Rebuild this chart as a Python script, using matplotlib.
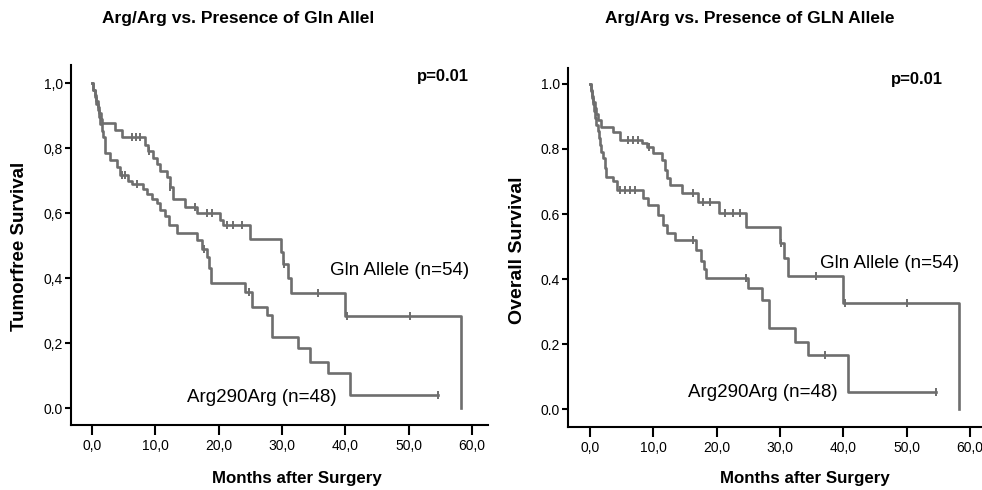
import numpy as np
import matplotlib
matplotlib.use('Agg')
import matplotlib.pyplot as plt

plt.rcParams['font.family'] = ['Liberation Sans', 'DejaVu Sans']

# ticks
x_ticks = [0, 10, 20, 30, 40, 50, 60]
x_labels = ['0,0', '10,0', '20,0', '30,0', '40,0', '50,0', '60,0']
y_ticks = [0.0, 0.2, 0.4, 0.6, 0.8, 1.0]
y_labels_left = ['0.0', '0,2', '0,4', '0,6', '0,8', '1,0']
y_labels_right = ['0.0', '0.2', '0.4', '0.6', '0.8', '1.0']

# tumorfree survival - Gln allele (n=54)
gln_tf_t = [0.2, 0.4, 0.6, 0.9, 1.1, 1.4, 1.6, 3.6, 4.7, 8.4, 8.9, 9.7, 10.2, 10.7,
            11.8, 12.3, 12.8, 14.7, 16.5, 20.2, 20.7, 24.9, 29.9, 30.1, 31.0, 31.4,
            40.0, 58.3]
gln_tf_s = [0.98, 0.963, 0.944, 0.926, 0.907, 0.889, 0.876, 0.855, 0.835, 0.81, 0.79,
            0.77, 0.75, 0.73, 0.71, 0.68, 0.645, 0.62, 0.60, 0.58, 0.563, 0.522, 0.48,
            0.445, 0.40, 0.353, 0.283, 0.0]
gln_tf_c = [6.3, 7.0, 7.6, 9.0, 12.3, 16.3, 18.1, 18.9, 21.3, 22.3, 23.6, 30.3, 35.7,
            40.2, 50.2]

# tumorfree survival - Arg290Arg (n=48)
arg_tf_t = [0.2, 0.4, 0.6, 0.9, 1.1, 1.3, 1.6, 1.8, 2.0, 2.8, 3.9, 4.4, 5.7, 6.3,
            8.1, 8.6, 9.4, 10.2, 10.7, 11.5, 12.1, 13.4, 16.5, 17.3, 18.1, 18.4,
            18.7, 24.2, 25.2, 27.6, 28.4, 32.5, 34.4, 37.3, 40.7]
arg_tf_s = [0.979, 0.958, 0.937, 0.917, 0.896, 0.875, 0.854, 0.833, 0.784, 0.763,
            0.743, 0.717, 0.70, 0.69, 0.675, 0.66, 0.645, 0.63, 0.61, 0.59, 0.565,
            0.54, 0.517, 0.49, 0.466, 0.43, 0.384, 0.358, 0.31, 0.286, 0.219, 0.184,
            0.143, 0.107, 0.04]
arg_tf_c = [4.7, 5.2, 7.1, 17.6, 24.7, 54.6]

# overall survival - Gln allele (n=54)
gln_os_t = [0.1, 0.3, 0.5, 0.8, 1.0, 1.3, 1.7, 3.7, 4.7, 8.2, 9.0, 10.0, 11.3, 11.8,
            12.1, 12.6, 14.5, 17.1, 20.3, 24.7, 30.0, 30.6, 31.3, 40.0, 58.3]
gln_os_s = [0.981, 0.963, 0.944, 0.926, 0.907, 0.889, 0.869, 0.853, 0.828, 0.818,
            0.807, 0.787, 0.766, 0.735, 0.71, 0.689, 0.664, 0.638, 0.602, 0.561,
            0.51, 0.464, 0.409, 0.325, 0.0]
gln_os_c = [6.05, 6.84, 7.6, 9.3, 16.3, 17.9, 18.9, 21.3, 22.6, 23.7, 30.2, 35.7,
            40.2, 50.0]

# overall survival - Arg290Arg (n=48)
arg_os_t = [0.1, 0.3, 0.4, 0.6, 0.8, 1.0, 1.2, 1.4, 1.6, 1.8, 2.0, 2.4, 2.6, 3.7,
            4.2, 8.4, 9.2, 10.8, 11.6, 12.1, 13.4, 16.8, 17.6, 18.0, 18.3, 24.9,
            27.1, 28.2, 32.4, 34.5, 40.8]
arg_os_s = [0.979, 0.958, 0.938, 0.917, 0.896, 0.875, 0.854, 0.833, 0.813, 0.792,
            0.771, 0.74, 0.715, 0.70, 0.675, 0.649, 0.628, 0.597, 0.566, 0.541, 0.52,
            0.49, 0.455, 0.43, 0.402, 0.372, 0.335, 0.248, 0.207, 0.166, 0.053]
arg_os_c = [4.7, 5.5, 6.3, 7.1, 16.3, 24.7, 37.1, 54.7]

line_col = '#6e6e6e'


def km_plot(ax, t, s, cens):
    t = np.asarray(t)
    s = np.asarray(s)
    end = max(t.max(), max(cens))
    xs = np.concatenate([[0], t, [end]])
    ys = np.concatenate([[1.0], s, [s[-1]]])
    ax.step(xs, ys, where='post', color=line_col, lw=1.9)
    idx = np.searchsorted(t, cens, side='right')
    cy = np.concatenate([[1.0], s])[idx]
    ax.plot(cens, cy, ls='none', marker='|', ms=6, mew=1.4, color=line_col)


def style(ax, xlim, ylim, ylabels):
    ax.set_xlim(xlim)
    ax.set_ylim(ylim)
    ax.spines[['top', 'right']].set_visible(False)
    for sp in ['left', 'bottom']:
        ax.spines[sp].set_linewidth(1.5)
    ax.set_xticks(x_ticks, x_labels)
    ax.set_yticks(y_ticks, ylabels)
    ax.tick_params(axis='x', length=7, width=1.5, labelsize=10, pad=3)
    ax.tick_params(axis='y', length=4.5, width=1.5, labelsize=10, pad=1.5)


fig = plt.figure(figsize=(9.82, 4.9), dpi=100)
W, H = 982, 490

ax1 = fig.add_axes([71 / W, 1 - 425 / H, 417 / W, 360 / H])
km_plot(ax1, gln_tf_t, gln_tf_s, gln_tf_c)
km_plot(ax1, arg_tf_t, arg_tf_s, arg_tf_c)
style(ax1, (-3.32, 62.5), (-0.052, 1.056), y_labels_left)
ax1.text(37.6, 0.425, 'Gln Allele (n=54)', fontsize=13.5, va='center', ha='left')
ax1.text(15.0, 0.034, 'Arg290Arg (n=48)', fontsize=13.5, va='center', ha='left')
ax1.text(51.3, 1.02, 'p=0.01', fontsize=12, weight='bold', va='center', ha='left')

ax2 = fig.add_axes([568 / W, 1 - 427 / H, 414 / W, 359 / H])
km_plot(ax2, gln_os_t, gln_os_s, gln_os_c)
km_plot(ax2, arg_os_t, arg_os_s, arg_os_c)
style(ax2, (-3.47, 61.9), (-0.055, 1.049), y_labels_right)
ax2.text(36.3, 0.449, 'Gln Allele (n=54)', fontsize=13.5, va='center', ha='left')
ax2.text(15.5, 0.052, 'Arg290Arg (n=48)', fontsize=13.5, va='center', ha='left')
ax2.text(47.5, 1.013, 'p=0.01', fontsize=12, weight='bold', va='center', ha='left')

fig.text(238 / W, 1 - 18 / H, 'Arg/Arg vs. Presence of Gln Allel', fontsize=12.5,
         weight='bold', ha='center', va='center')
fig.text(750 / W, 1 - 18 / H, 'Arg/Arg vs. Presence of GLN Allele', fontsize=12.5,
         weight='bold', ha='center', va='center')
fig.text(297 / W, 1 - 478 / H, 'Months after Surgery', fontsize=12.2,
         weight='bold', ha='center', va='center')
fig.text(805 / W, 1 - 478 / H, 'Months after Surgery', fontsize=12.2,
         weight='bold', ha='center', va='center')
fig.text(20 / W, 1 - 246 / H, 'Tumorfree Survival', fontsize=13.5, weight='bold',
         rotation=90, ha='center', va='center')
fig.text(518 / W, 1 - 250 / H, 'Overall Survival', fontsize=14, weight='bold',
         rotation=90, ha='center', va='center')

fig.savefig('out.png', dpi=100)
